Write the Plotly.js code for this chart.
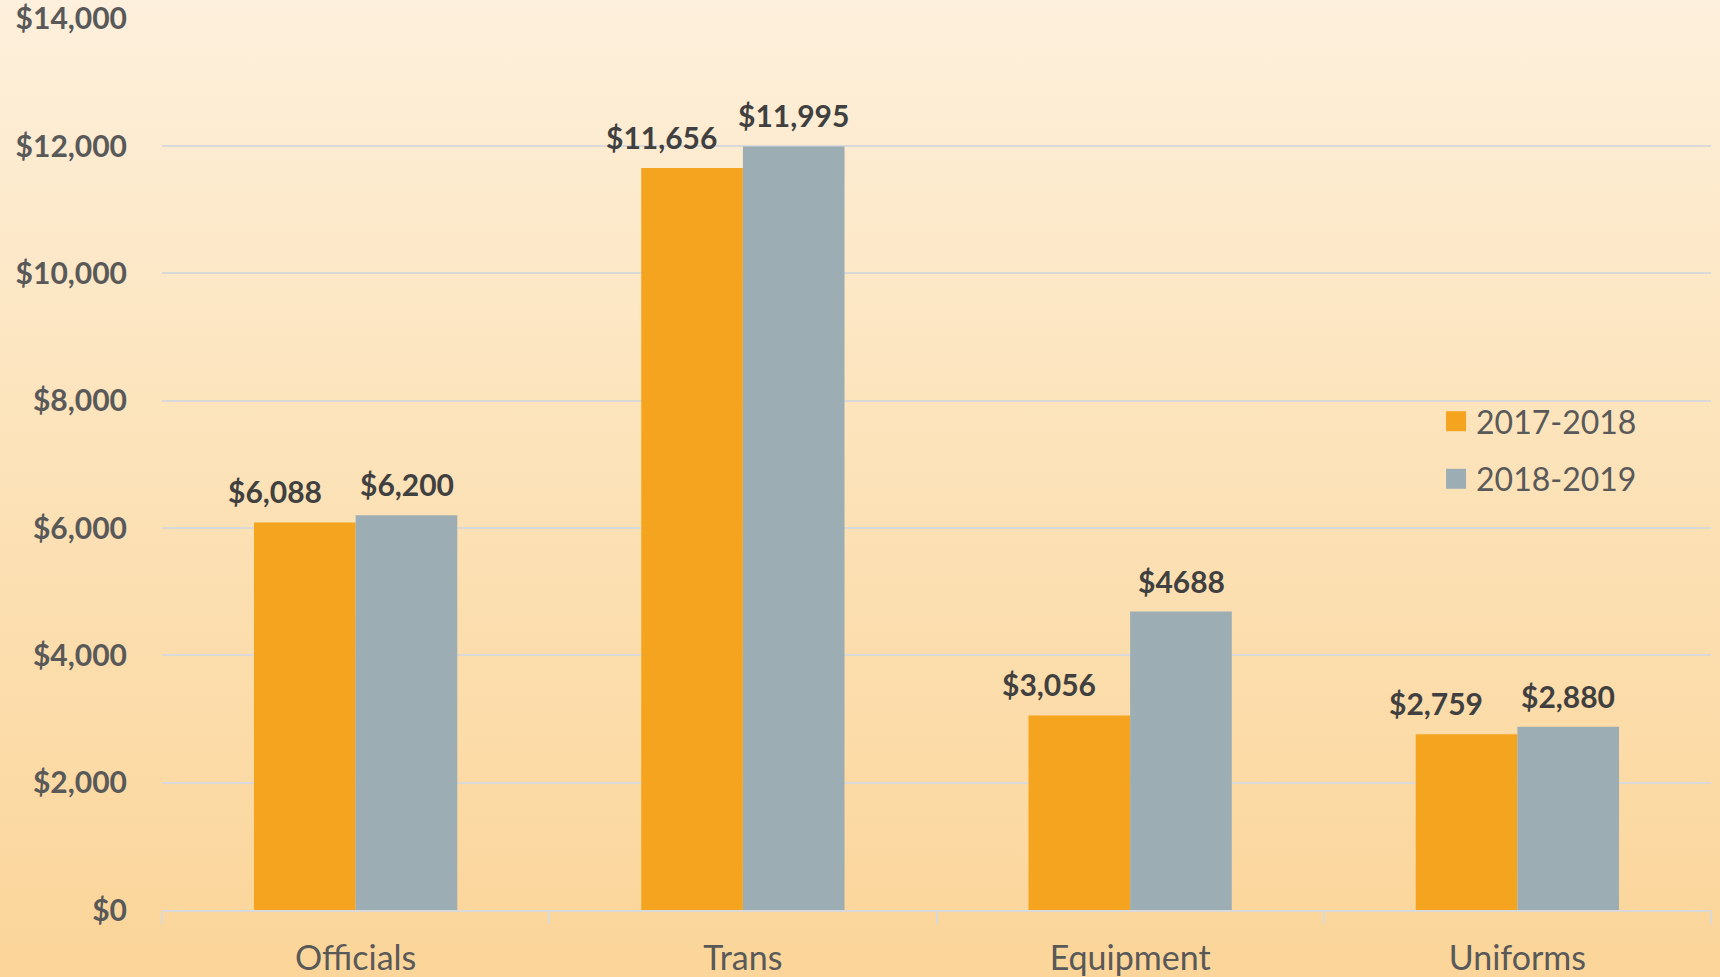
<!DOCTYPE html>
<html>
<head>
<meta charset="utf-8">
<script src="https://cdn.plot.ly/plotly-3.0.1.min.js"></script>
<style>
  html, body { margin: 0; padding: 0; }
  #chart {
    width: 1720px; height: 977px;
    background: linear-gradient(to bottom, #FDF0DC 0%, #FCE3BA 45%, #FBD599 100%);
  }
</style>
</head>
<body>
<div id="chart"></div>
<script>
const categories = ["Officials", "Trans", "Equipment", "Uniforms"];
const series2017 = [6088, 11656, 3056, 2759];
const series2018 = [6200, 11995, 4688, 2880];
const labels2017 = ["$6,088", "$11,656", "$3,056", "$2,759"];
const labels2018 = ["$6,200", "$11,995", "$4688", "$2,880"];
const seriesNames = ["2017-2018", "2018-2019"];
const yTickVals = [0, 2000, 4000, 6000, 8000, 10000, 12000, 14000];
const yTickText = ["$0", "$2,000", "$4,000", "$6,000", "$8,000", "$10,000", "$12,000", "$14,000"];

const FONT = "Lato, 'Open Sans', sans-serif";

const traces = [
  { type: "bar", name: seriesNames[0], x: categories, y: series2017,
    marker: { color: "#F5A41F" }, legendgroup: "a", hoverinfo: "skip" },
  { type: "bar", name: seriesNames[1], x: categories, y: series2018,
    marker: { color: "#9CAEB4" }, legendgroup: "b", hoverinfo: "skip" }
];

const annotations = [];
categories.forEach((c, i) => {
  annotations.push({ xref: "x", yref: "y", x: c, y: series2017[i], text: labels2017[i],
    showarrow: false, xshift: -81, yshift: 31, yanchor: "middle",
    font: { family: FONT, size: 30, color: "#404040", weight: "bold" } });
  annotations.push({ xref: "x", yref: "y", x: c, y: series2018[i], text: labels2018[i],
    showarrow: false, xshift: 51, yshift: 31, yanchor: "middle",
    font: { family: FONT, size: 30, color: "#404040", weight: "bold" } });
});

const layout = {
  width: 1720, height: 977,
  paper_bgcolor: "rgba(0,0,0,0)", plot_bgcolor: "rgba(0,0,0,0)",
  margin: { l: 162, r: 9, t: 18, b: 67 },
  barmode: "group", bargap: 0.475, bargroupgap: 0,
  font: { family: FONT, color: "#595959" },
  xaxis: {
    type: "category", showgrid: false, showline: true, linecolor: "#D9D9D9", linewidth: 2,
    ticks: "outside", tickson: "boundaries", ticklen: 12, tickcolor: "#D9D9D9", tickwidth: 2,
    tickfont: { family: FONT, size: 34, color: "#595959" }, ticklabelstandoff: 17,
    zeroline: false
  },
  yaxis: {
    range: [0, 14012], tickvals: yTickVals, ticktext: yTickText,
    showgrid: true, gridcolor: "#D9D9D9", gridwidth: 2, zeroline: false, showline: false,
    tickfont: { family: FONT, size: 30, color: "#595959", weight: "bold" },
    ticklabelstandoff: 34, ticklabeloverflow: "allow", automargin: false
  },
  legend: {
    x: 0.8225, y: 0.5786, xanchor: "left", yanchor: "top",
    bgcolor: "rgba(0,0,0,0)", traceorder: "grouped", tracegroupgap: 13,
    font: { family: FONT, size: 32, color: "#595959" }, itemwidth: 30
  },
  annotations: annotations,
  showlegend: true
};

Plotly.newPlot("chart", traces, layout, { staticPlot: true, displayModeBar: false }).then(() => {
  document.querySelectorAll(".legendpoints path").forEach(p => {
    p.setAttribute("d", "M10,10H-10V-10H10Z");
    p.setAttribute("transform", "translate(20,0)");
  });
});
</script>
</body>
</html>
